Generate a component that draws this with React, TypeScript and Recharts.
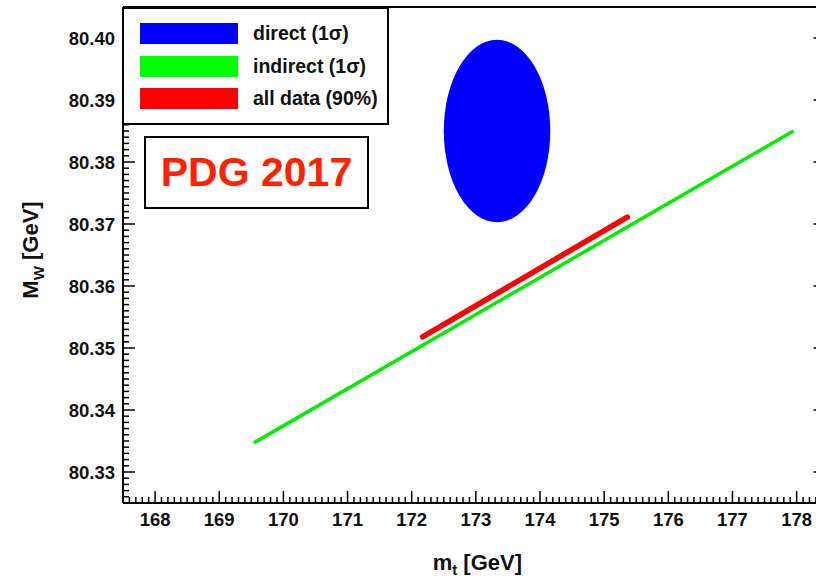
import React from "react";
import {
  ComposedChart,
  Line,
  XAxis,
  YAxis,
  ReferenceArea,
  Label,
} from "recharts";

// direct measurement (1 sigma ellipse): centre and half-widths
const directMt = [173.33, 0.83];
const directMw = [80.385, 0.0147];

// indirect (1 sigma) band end points
const indirectMt = [169.54, 177.95];
const indirectMw = [80.3347, 80.385];

// all data (90%) band end points
const allMt = [172.17, 175.36];
const allMw = [80.3518, 80.3711];

const xMajorLabels = ["168", "169", "170", "171", "172", "173", "174", "175", "176", "177", "178"];
const yMajorLabels = ["80.33", "80.34", "80.35", "80.36", "80.37", "80.38", "80.39", "80.40"];

const legendItems = [
  { label: "direct (1\u03c3)", color: "#0000ff" },
  { label: "indirect (1\u03c3)", color: "#00ff00" },
  { label: "all data (90%)", color: "#ff0000" },
];

const X_DOMAIN: [number, number] = [167.5, 178.45];
const Y_DOMAIN: [number, number] = [80.325, 80.405];

const FONT = "'Liberation Sans', Arial, Helvetica, sans-serif";

// minor ticks every 0.1 GeV / 0.001 GeV
const xTicks: number[] = [];
for (let i = 0; i <= 109; i++) xTicks.push((1675 + i) / 10);
const yTicks: number[] = [];
for (let i = 0; i <= 80; i++) yTicks.push((80325 + i) / 1000);

const indirectData = indirectMt.map((x, i) => ({ x, y: indirectMw[i] }));
const allData = allMt.map((x, i) => ({ x, y: allMw[i] }));

const isMajorX = (v: number) => Math.abs(v - Math.round(v)) < 1e-6;
const isMajorY = (v: number) => Math.abs(v * 100 - Math.round(v * 100)) < 1e-6;

const xLabel = (v: number) => xMajorLabels.find((l) => Math.abs(Number(l) - v) < 1e-6);
const yLabel = (v: number) => yMajorLabels.find((l) => Math.abs(Number(l) - v) < 1e-6);

const tickText = { fontFamily: FONT, fontWeight: 700, fontSize: 18.5, fill: "#111" };

function BottomTick(props: any) {
  const { x, y, payload } = props;
  const major = isMajorX(payload.value);
  const label = major ? xLabel(payload.value) : undefined;
  return (
    <g>
      <line x1={x} x2={x} y1={y} y2={y - (major ? 12 : 6)} stroke="#000" strokeWidth={1.5} />
      {label && (
        <text x={x} y={y + 23} textAnchor="middle" {...tickText}>
          {label}
        </text>
      )}
    </g>
  );
}

function TopTick(props: any) {
  const { x, y, payload } = props;
  const major = isMajorX(payload.value);
  return <line x1={x} x2={x} y1={y} y2={y + (major ? 12 : 6)} stroke="#000" strokeWidth={1.5} />;
}

function LeftTick(props: any) {
  const { x, y, payload } = props;
  const major = isMajorY(payload.value);
  const label = major ? yLabel(payload.value) : undefined;
  return (
    <g>
      <line x1={x} x2={x + (major ? 12 : 6)} y1={y} y2={y} stroke="#000" strokeWidth={1.5} />
      {label && (
        <text x={x - 8} y={y + 6.5} textAnchor="end" {...tickText}>
          {label}
        </text>
      )}
    </g>
  );
}

function RightTick(props: any) {
  const { x, y, payload } = props;
  const major = isMajorY(payload.value);
  return <line x1={x} x2={x - (major ? 12 : 6)} y1={y} y2={y} stroke="#000" strokeWidth={1.5} />;
}

function Ellipse(props: any) {
  const { x, y, width, height, fill } = props;
  return <ellipse cx={x + width / 2} cy={y + height / 2} rx={width / 2} ry={height / 2} fill={fill} />;
}

const titleStyle = { fontFamily: FONT, fontWeight: 700, fontSize: 22, fill: "#111" };

function XTitle() {
  return (
    <text x={522} y={570} textAnchor="end" {...titleStyle}>
      m<tspan dy={5} fontSize={15}>t</tspan>
      <tspan dy={-5}> [GeV]</tspan>
    </text>
  );
}

function YTitle() {
  return (
    <text x={38} y={250} textAnchor="middle" transform="rotate(-90, 38, 250)" {...titleStyle}>
      M<tspan dy={6} fontSize={15}>W</tspan>
      <tspan dy={-6}> [GeV]</tspan>
    </text>
  );
}

export default function App() {
  return (
    <div
      style={{
        position: "absolute",
        left: 0,
        top: 0,
        width: 816,
        height: 580,
        overflow: "hidden",
        background: "#fff",
      }}
    >
      <ComposedChart width={830} height={580} margin={{ top: 6, right: 3.5, bottom: 0, left: 0 }}>
        <XAxis
          dataKey="x"
          type="number"
          domain={X_DOMAIN}
          ticks={xTicks}
          interval={0}
          height={77}
          tickSize={0}
          tickMargin={0}
          tick={<BottomTick />}
          axisLine={{ stroke: "#000", strokeWidth: 2 }}
          allowDataOverflow
        >
          <Label content={<XTitle />} />
        </XAxis>
        <XAxis
          xAxisId="top"
          orientation="top"
          type="number"
          domain={X_DOMAIN}
          ticks={xTicks}
          interval={0}
          height={1}
          tickSize={0}
          tickMargin={0}
          tick={<TopTick />}
          axisLine={{ stroke: "#000", strokeWidth: 2 }}
          allowDataOverflow
        />
        <YAxis
          type="number"
          domain={Y_DOMAIN}
          ticks={yTicks}
          interval={0}
          width={123}
          tickSize={0}
          tickMargin={0}
          tick={<LeftTick />}
          axisLine={{ stroke: "#000", strokeWidth: 2 }}
          allowDataOverflow
        >
          <Label content={<YTitle />} />
        </YAxis>
        <YAxis
          yAxisId="right"
          orientation="right"
          type="number"
          domain={Y_DOMAIN}
          ticks={yTicks}
          interval={0}
          width={1}
          tickSize={0}
          tickMargin={0}
          tick={<RightTick />}
          axisLine={{ stroke: "#000", strokeWidth: 2 }}
          allowDataOverflow
        />
        <ReferenceArea
          x1={directMt[0] - directMt[1]}
          x2={directMt[0] + directMt[1]}
          y1={directMw[0] - directMw[1]}
          y2={directMw[0] + directMw[1]}
          fill="#0000ff"
          fillOpacity={1}
          stroke="none"
          shape={<Ellipse />}
        />
        <Line
          data={indirectData}
          dataKey="y"
          stroke="#00ee00"
          strokeWidth={3.5}
          dot={false}
          activeDot={false}
          isAnimationActive={false}
        />
        <Line
          data={allData}
          dataKey="y"
          stroke="#ff0000"
          strokeWidth={5.5}
          strokeLinecap="round"
          dot={false}
          activeDot={false}
          isAnimationActive={false}
        />
      </ComposedChart>

      {/* legend box */}
      <div
        style={{
          position: "absolute",
          left: 122,
          top: 7,
          width: 267,
          height: 118,
          boxSizing: "border-box",
          border: "2px solid #000",
          background: "#fff",
        }}
      >
        {legendItems.map((item, i) => (
          <div key={item.label}>
            <div
              style={{
                position: "absolute",
                left: 16,
                top: 14 + i * 32.7,
                width: 98,
                height: 21,
                background: item.color,
              }}
            />
            <div
              style={{
                position: "absolute",
                left: 129,
                top: 12 + i * 32.7,
                height: 24,
                lineHeight: "24px",
                fontFamily: FONT,
                fontWeight: 700,
                fontSize: 19.5,
                color: "#111",
                whiteSpace: "nowrap",
              }}
            >
              {item.label}
            </div>
          </div>
        ))}
      </div>

      {/* PDG label */}
      <div
        style={{
          position: "absolute",
          left: 144,
          top: 136,
          width: 225,
          height: 73,
          boxSizing: "border-box",
          border: "2px solid #000",
          background: "#fff",
          display: "flex",
          alignItems: "center",
          justifyContent: "center",
          fontFamily: FONT,
          fontWeight: 700,
          fontSize: 41,
          color: "#ff2200",
        }}
      >
        PDG 2017
      </div>
    </div>
  );
}
